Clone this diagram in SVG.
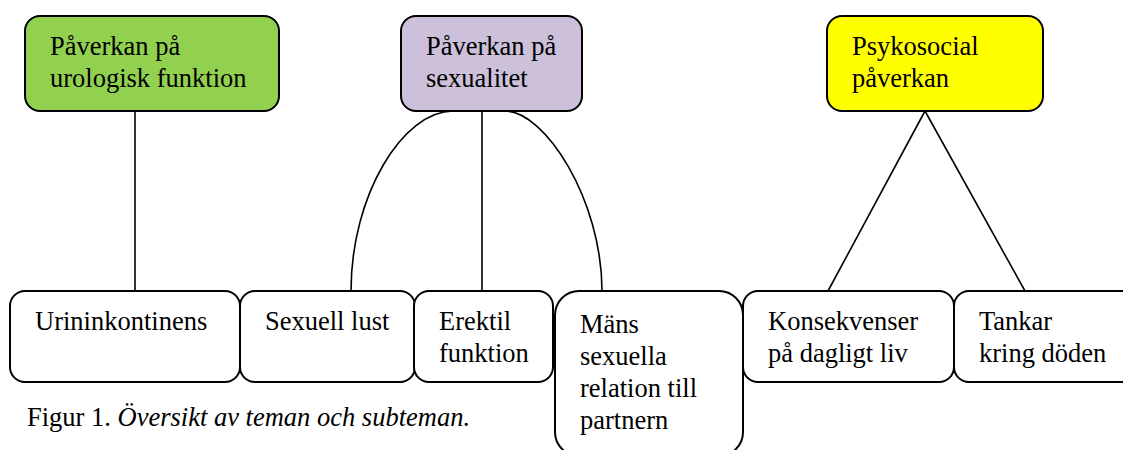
<svg xmlns="http://www.w3.org/2000/svg" width="1123" height="450" viewBox="0 0 1123 450" font-family="'Times New Roman', 'Liberation Serif', 'DejaVu Serif', serif" font-size="26.5">
<style>
.box{stroke:#000;stroke-width:2;}
.sub{fill:#fff;}
text{font-family:'Times New Roman','Liberation Serif','DejaVu Serif',serif;font-size:26.5px;fill:#000;}
.conn{fill:none;stroke:#000;stroke-width:1.6;}
</style>
<rect width="1123" height="450" fill="#fff"/>
<g id="connectors">
<line class="conn" x1="135" y1="111" x2="135" y2="291"/>
<line class="conn" x1="482" y1="111" x2="482" y2="291"/>
<path class="conn" d="M453,111 C403,111 351,195 351,291"/>
<path class="conn" d="M505,111 C545,111 602,200 602,291"/>
<line class="conn" x1="925" y1="111" x2="828" y2="291"/>
<line class="conn" x1="925" y1="111" x2="1025" y2="291"/>
</g>
<g id="theme-urologisk">
<rect class="box" x="25" y="16" width="254" height="95" rx="15" fill="#92d050"/>
<text x="50" y="55">Påverkan på</text>
<text x="50" y="87">urologisk funktion</text>
</g>
<g id="theme-sexualitet">
<rect class="box" x="401" y="16" width="181" height="95" rx="15" fill="#ccc0da"/>
<text x="426" y="55">Påverkan på</text>
<text x="426" y="87">sexualitet</text>
</g>
<g id="theme-psykosocial">
<rect class="box" x="827" y="16" width="216" height="95" rx="15" fill="#ffff00"/>
<text x="852" y="55">Psykosocial</text>
<text x="852" y="87">påverkan</text>
</g>
<g id="sub-urininkontinens">
<rect class="box sub" x="10" y="291" width="230" height="91" rx="15"/>
<text x="35" y="330">Urininkontinens</text>
</g>
<g id="sub-sexuell-lust">
<rect class="box sub" x="240" y="291" width="175" height="91" rx="15"/>
<text x="265" y="330">Sexuell lust</text>
</g>
<g id="sub-erektil">
<rect class="box sub" x="414" y="291" width="139" height="91" rx="15"/>
<text x="439" y="330">Erektil</text>
<text x="439" y="361.5">funktion</text>
</g>
<g id="sub-mans-relation">
<rect class="box sub" x="555" y="291" width="188" height="165" rx="24"/>
<text x="580" y="333">Mäns</text>
<text x="580" y="365">sexuella</text>
<text x="580" y="397">relation till</text>
<text x="580" y="429">partnern</text>
</g>
<g id="sub-konsekvenser">
<rect class="box sub" x="743" y="291" width="211" height="91" rx="15"/>
<text x="768" y="330">Konsekvenser</text>
<text x="768" y="361.5">på dagligt liv</text>
</g>
<g id="sub-tankar">
<rect class="box sub" x="954" y="291" width="190" height="91" rx="15"/>
<text x="979" y="330">Tankar</text>
<text x="979" y="361.5">kring döden</text>
</g>
<g id="caption">
<text x="27" y="426">Figur 1. <tspan font-style="italic">Översikt av teman och subteman.</tspan></text>
</g>
</svg>
